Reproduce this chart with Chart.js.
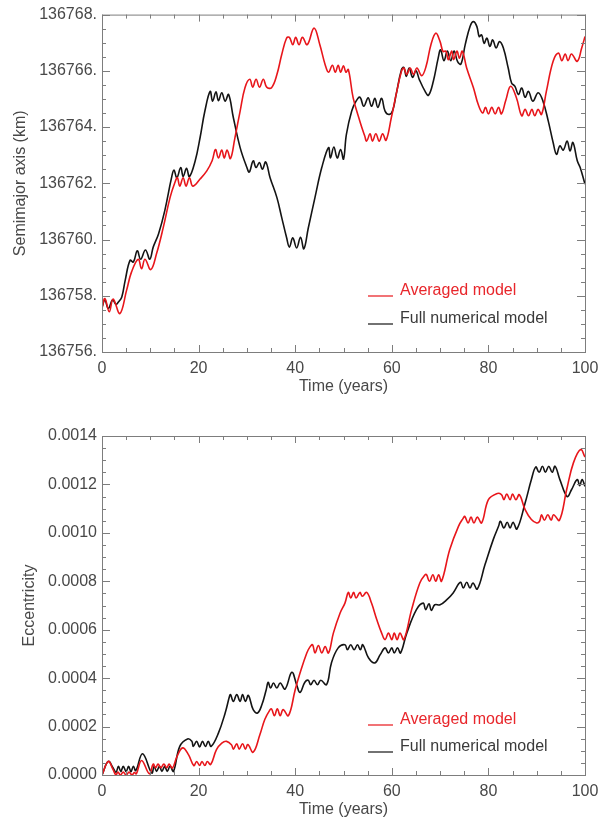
<!DOCTYPE html>
<html>
<head>
<meta charset="utf-8">
<title>Semimajor axis / Eccentricity</title>
<script src="https://cdn.jsdelivr.net/npm/chart.js@4.4.0/dist/chart.umd.min.js"></script>
<style>
html, body { margin:0; padding:0; background:#fff; overflow:hidden; }
.panel { position:absolute; left:0; width:609px; }
</style>
</head>
<body>

<div class="panel" style="top:0px;height:400px;"><canvas id="semiChart"></canvas></div>
<div class="panel" style="top:411px;height:407px;"><canvas id="eccChart"></canvas></div>

<script>
// ---- data ----
var xTicks = [0, 20, 40, 60, 80, 100];
var semiTicks = [136756, 136758, 136760, 136762, 136764, 136766, 136768];
var eccTicks = [0, 0.0002, 0.0004, 0.0006, 0.0008, 0.0010, 0.0012, 0.0014];

// semimajor axis (km), averaged model
var semiAvgYears = [0,0.6,1.5,2.3,3.7,5.1,6.1,7.5,8.2,8.9,10.1,11.3,12.7,14.1,15.1,15.6,16.1,16.8,17.4,18.1,18.8,20.3,21.7,22.8,23.5,24.1,24.8,25.3,25.9,26.6,27.5,28.6,29.6,30.6,31.2,31.9,32.6,33.4,34.1,35.1,36.2,37.2,38.2,38.8,39.5,40.1,40.8,41.5,42.5,43.9,45.1,46.2,46.9,47.7,48.3,48.9,49.4,50.0,50.5,51.0,52.0,53.4,54.4,54.8,55.5,56.0,56.7,57.4,58.1,58.8,59.9,60.9,62.0,62.5,63.1,63.8,64.5,65.2,66.2,67.1,68.1,69.1,70.0,70.6,71.2,71.7,72.4,72.8,73.5,74.0,74.6,75.5,76.9,77.9,78.8,79.4,80.0,80.7,81.4,82.1,82.7,83.6,84.6,85.8,86.9,87.6,88.3,89.0,89.6,90.3,91.0,92.0,93.4,94.5,95.2,95.9,96.5,97.2,98.4,99.3,100];
var semiAvgKm = [136757.55,136757.9,136757.43,136757.88,136757.37,136758.2,136758.84,136759.3,136758.96,136759.3,136758.93,136759.5,136760.44,136761.5,136762.03,136762.2,136761.9,136762.2,136761.9,136762.2,136761.9,136762.15,136762.44,136762.8,136763.2,136762.9,136763.18,136762.9,136763.18,136762.88,136763.6,136764.57,136765.4,136765.7,136765.42,136765.7,136765.42,136765.7,136765.42,136765.4,136765.86,136766.57,136767.16,136767.19,136766.93,136767.19,136766.93,136767.19,136766.93,136767.52,136766.93,136766.22,136765.95,136766.2,136765.95,136766.2,136765.95,136766.18,136765.95,136766.05,136765.04,136764.2,136763.68,136763.5,136763.76,136763.5,136763.76,136763.5,136763.76,136763.53,136764.33,136765.16,136765.98,136766.1,136765.87,136766.1,136765.87,136766.1,136765.83,136766.16,136766.93,136767.34,136767.04,136766.69,136766.7,136766.4,136766.7,136766.4,136766.7,136766.45,136766.7,136766.1,136765.4,136764.8,136764.5,136764.7,136764.47,136764.7,136764.47,136764.7,136764.47,136764.95,136765.45,136765.04,136764.4,136764.63,136764.4,136764.63,136764.4,136764.63,136764.45,136765.27,136766.34,136766.63,136766.36,136766.6,136766.36,136766.6,136766.34,136766.8,136767.22];

// semimajor axis (km), full numerical model
var semiFullYears = [0,0.6,1.3,2.2,2.9,3.4,4.1,4.8,5.8,6.5,7.3,8.0,9.0,9.9,10.6,11.7,13.0,14.4,14.9,15.5,16.3,16.8,17.5,18.1,19.3,20.3,21.3,22.4,22.9,23.6,24.1,24.8,25.5,26.2,27.2,28.6,30.0,30.5,31.3,31.9,32.6,33.2,33.9,34.8,36.2,37.2,38.2,38.8,39.5,40.3,41.1,41.8,42.7,44.1,45.5,46.9,47.3,48.0,48.7,49.4,50.0,50.6,51.7,52.6,53.4,54.2,55.1,55.8,56.5,57.1,57.9,58.6,59.5,60.2,60.9,62.0,62.5,63.0,63.6,64.3,65.0,65.7,66.9,67.6,68.6,69.6,70.1,70.8,71.5,72.2,72.9,73.6,74.3,75.2,76.2,76.9,77.6,78.1,78.6,79.1,79.7,80.3,80.9,81.6,82.3,83.1,84.1,84.8,85.5,86.2,86.9,87.6,88.3,89.2,90.3,91.3,92.4,93.4,94.1,94.8,95.5,96.3,96.9,97.5,98.4,99.0,100];
var semiFullKm = [136757.6,136757.85,136757.55,136757.85,136757.7,136757.78,136757.96,136758.55,136759.26,136759.2,136759.6,136759.3,136759.63,136759.3,136759.73,136760.2,136761.03,136762.2,136762.47,136762.2,136762.56,136762.24,136762.53,136762.24,136762.8,136763.62,136764.57,136765.27,136764.92,136765.25,136764.94,136765.22,136764.92,136765.16,136764.33,136763.27,136762.56,136762.4,136762.8,136762.56,136762.74,136762.5,136762.76,136762.2,136761.5,136760.79,136760.08,136759.73,136760.06,136759.7,136760.08,136759.67,136760.4,136761.5,136762.56,136763.27,136762.9,136763.29,136762.9,136763.2,136762.86,136763.74,136764.57,136764.92,136765.06,136764.74,136765.04,136764.74,136765.02,136764.7,136765.02,136764.57,136764.45,136764.6,136765.16,136766.04,136766.12,136765.8,136766.1,136765.77,136766.0,136765.69,136765.27,136765.13,136765.63,136766.45,136766.75,136766.36,136766.7,136766.36,136766.7,136766.34,136766.24,136766.93,136767.58,136767.75,136767.58,136767.22,136767.28,136766.98,136767.16,136766.87,136767.1,136766.81,136767.04,136766.81,136766.1,136765.57,136765.45,136765.16,136765.39,136765.06,136765.27,136764.92,136765.22,136764.92,136764.21,136763.45,136763.03,136763.33,136763.18,136763.5,136763.15,136763.45,136762.8,136762.56,136761.97];

// eccentricity in units of 1e-4, averaged model
var eccAvgYears = [0,1.3,2.3,2.9,3.3,3.8,4.4,5.0,5.6,6.2,6.7,7.1,8.2,9.8,10.6,11.1,11.6,12.2,12.8,13.4,13.9,14.6,15.5,16.7,17.9,19.0,19.6,20.2,20.7,21.3,21.8,22.5,23.7,24.8,25.8,26.8,27.2,27.9,28.4,29.1,29.7,30.2,31.3,32.7,33.7,34.8,35.1,35.7,36.3,36.9,37.5,38.6,40.0,41.0,42.4,43.1,43.6,44.1,44.8,45.5,46.2,46.9,47.9,49.3,50.3,51.0,51.5,52.1,52.6,53.4,53.9,54.8,55.8,56.9,57.9,58.6,59.3,60.0,60.5,61.1,61.7,62.5,64.1,65.8,66.9,67.2,67.8,68.5,69.1,69.7,70.3,72.0,73.8,74.8,75.1,75.8,76.4,77.0,77.7,78.6,80.0,81.7,82.7,83.2,83.8,84.5,85.0,85.7,86.4,87.6,88.9,90.0,90.6,91.0,91.6,92.3,93.0,93.5,94.7,96.2,97.6,99.1,100];
var eccAvgE4 = [0,0.56,0.22,0,0.12,0,0.12,0,0.12,0,0.1,0.05,0.6,0.05,0.45,0.3,0.45,0.3,0.45,0.3,0.45,0.29,0.75,1.12,0.84,0.39,0.56,0.39,0.56,0.39,0.56,0.43,1.05,1.32,1.39,1.25,1.07,1.29,1.07,1.29,1.07,1.26,0.94,1.67,2.29,2.70,2.73,2.45,2.73,2.45,2.70,2.45,3.52,4.21,5.04,5.3,5.38,5.04,5.35,5.04,5.30,5.04,5.86,6.69,7.1,7.54,7.31,7.54,7.31,7.54,7.38,7.54,7.1,6.41,5.86,5.59,5.86,5.59,5.86,5.59,5.86,5.59,6.83,7.93,8.27,8.27,8.0,8.27,8.0,8.27,8.0,9.31,10.27,10.61,10.68,10.41,10.65,10.41,10.65,10.41,11.37,11.62,11.58,11.37,11.6,11.37,11.6,11.37,11.58,10.96,10.55,10.41,10.48,10.75,10.52,10.75,10.52,10.75,10.52,11.78,12.89,13.44,13.13];

// eccentricity in units of 1e-4, full numerical model
var eccFullYears = [0,1.3,2.3,2.9,3.4,3.9,4.4,5.0,5.5,6.0,6.5,7.0,8.4,10.3,10.8,11.3,11.9,12.4,13.0,13.5,14.1,14.8,16.1,17.7,18.6,18.9,19.6,20.2,20.8,21.4,22.0,22.6,24.1,25.5,26.4,26.6,27.2,27.9,28.6,29.1,29.7,30.3,31.3,32.2,33.1,34.0,34.4,34.9,35.5,36.2,36.9,37.9,39.3,40.3,41.0,42.0,42.7,43.2,43.9,44.6,45.3,46.5,47.5,48.9,50.3,50.8,51.5,52.2,52.9,53.5,54.0,55.2,56.5,57.6,58.6,59.3,60.0,60.5,61.2,61.8,63.1,65.1,66.5,67.0,67.7,68.2,68.9,70.0,71.4,72.7,74.2,74.8,75.5,76.2,76.8,77.7,79.3,81.0,82.1,82.5,83.2,83.9,84.5,85.1,85.9,87.6,88.9,89.8,90.5,91.2,91.8,92.5,93.2,93.8,94.8,96.3,97.2,98.4,98.9,99.4,100];
var eccFullE4 = [0,0.56,0.29,0.11,0.36,0.14,0.36,0.14,0.36,0.14,0.36,0.18,0.88,0.08,0.36,0.15,0.36,0.15,0.36,0.15,0.36,0.15,1.18,1.49,1.39,1.18,1.39,1.16,1.39,1.18,1.39,1.18,1.73,2.56,3.25,3.32,3.04,3.32,3.04,3.32,3.04,3.29,2.70,2.56,2.9,3.52,3.83,3.59,3.8,3.59,3.8,3.55,4.24,3.73,3.41,3.83,3.91,3.73,3.91,3.73,3.91,3.73,4.63,5.25,5.38,5.17,5.38,5.17,5.38,5.17,5.38,4.83,4.63,4.97,5.25,5.04,5.25,5.04,5.25,5.04,5.86,6.83,7.1,6.83,7.07,6.8,7.03,7.03,7.24,7.52,7.96,7.72,7.96,7.72,7.93,7.68,8.69,9.72,10.27,10.48,10.2,10.44,10.2,10.44,10.16,11.23,12.2,12.72,12.5,12.75,12.5,12.75,12.5,12.75,12.2,11.5,11.78,12.2,11.95,12.2,11.92];

// ---- styling ----
var FAMILY = '"Liberation Sans", Arial, sans-serif';
var TXT = '#484848';
var RED = '#e8161b';
var BLACK = '#141414';

function pts(xs, ys, k) {
  return xs.map(function (x, i) { return { x: x, y: ys[i] * k }; });
}

// IDL-like frame: box round the plot with inward major and minor ticks on all sides,
// plus a small legend drawn inside the plot
var idlFrame = {
  id: 'idlFrame',
  afterDatasetsDraw: function (chart, args, o) {
    var ctx = chart.ctx, a = chart.chartArea;
    var xs = chart.scales.x, ys = chart.scales.y;
    ctx.save();
    ctx.strokeStyle = '#7d7d7d';
    ctx.lineWidth = 1;
    ctx.strokeRect(a.left + 0.5, a.top + 0.5, a.right - a.left, a.bottom - a.top);

    ctx.beginPath();
    var n = Math.round((xs.max - xs.min) / o.xMinor);
    for (var i = 0; i <= n; i++) {
      var px = Math.round(xs.getPixelForValue(xs.min + i * o.xMinor)) + 0.5;
      var len = (i % o.xPer === 0) ? 7 : 4;
      ctx.moveTo(px, a.bottom); ctx.lineTo(px, a.bottom - len);
      ctx.moveTo(px, a.top); ctx.lineTo(px, a.top + len);
    }
    n = Math.round((ys.max - ys.min) / o.yMinor);
    for (var j = 0; j <= n; j++) {
      var py = Math.round(ys.getPixelForValue(ys.min + j * o.yMinor)) + 0.5;
      var l2 = (j % o.yPer === 0) ? 8 : 4;
      ctx.moveTo(a.left, py); ctx.lineTo(a.left + l2, py);
      ctx.moveTo(a.right, py); ctx.lineTo(a.right - l2, py);
    }
    ctx.stroke();

    // legend
    ctx.font = '16px ' + FAMILY;
    ctx.textBaseline = 'middle';
    ctx.textAlign = 'left';
    chart.data.datasets.forEach(function (ds, k) {
      var y = o.legendY[k];
      ctx.strokeStyle = ds.borderColor;
      ctx.lineWidth = 1.2;
      ctx.beginPath();
      ctx.moveTo(o.legendX, y + 5); ctx.lineTo(o.legendX + 25, y + 5);
      ctx.stroke();
      ctx.fillStyle = o.legendColors[k];
      ctx.fillText(ds.label, o.legendX + 32, y);
    });
    ctx.restore();
  }
};

function makePanel(id, p) {
  return new Chart(document.getElementById(id), {
    type: 'line',
    data: {
      datasets: [
        { label: 'Averaged model', data: p.avg, borderColor: RED, borderWidth: 1.6 },
        { label: 'Full numerical model', data: p.full, borderColor: BLACK, borderWidth: 1.6 }
      ]
    },
    options: {
      responsive: true,
      maintainAspectRatio: false,
      animation: false,
      layout: { padding: { left: 0, right: 24, top: p.padTop, bottom: p.padBottom } },
      elements: {
        point: { radius: 0 },
        line: { tension: 0.4 }
      },
      plugins: {
        legend: { display: false },
        tooltip: { enabled: false },
        idlFrame: {
          xMinor: 5, xPer: 4, yMinor: p.yMinor, yPer: 4,
          legendX: 368, legendY: p.legendY, legendColors: ['#e8262b', '#3a3a3a']
        }
      },
      scales: {
        x: {
          type: 'linear', min: 0, max: 100,
          grid: { display: false, drawTicks: false },
          border: { display: false },
          afterBuildTicks: function (s) { s.ticks = xTicks.map(function (v) { return { value: v }; }); },
          afterFit: function (s) { s.height = 43; },
          ticks: { padding: 7, color: TXT, autoSkip: false, maxRotation: 0,
                   font: { family: FAMILY, size: 16 } },
          title: { display: true, text: 'Time (years)', color: TXT, padding: 0,
                   font: { family: FAMILY, size: 16, lineHeight: 1 } }
        },
        y: {
          type: 'linear', min: p.yMin, max: p.yMax,
          grid: { display: false, drawTicks: false },
          border: { display: false },
          afterBuildTicks: function (s) { s.ticks = p.yTicks.map(function (v) { return { value: v }; }); },
          afterFit: function (s) { s.width = 102; },
          ticks: { padding: 5, color: TXT, autoSkip: false, callback: p.fmt,
                   font: { family: FAMILY, size: 16 } },
          title: { display: true, text: p.yTitle, color: TXT, padding: { top: p.titlePad, bottom: 0 },
                   font: { family: FAMILY, size: 16, lineHeight: 1 } }
        }
      }
    },
    plugins: [idlFrame]
  });
}

makePanel('semiChart', {
  avg: pts(semiAvgYears, semiAvgKm, 1),
  full: pts(semiFullYears, semiFullKm, 1),
  yMin: 136756, yMax: 136768, yTicks: semiTicks, yMinor: 0.5,
  fmt: function (v) { return v.toFixed(0) + '.'; },
  yTitle: 'Semimajor axis (km)', titlePad: 13,
  padTop: 13, padBottom: 5,
  legendY: [291, 319]
});

makePanel('eccChart', {
  avg: pts(eccAvgYears, eccAvgE4, 1e-4),
  full: pts(eccFullYears, eccFullE4, 1e-4),
  yMin: 0, yMax: 0.0014, yTicks: eccTicks, yMinor: 0.00005,
  fmt: function (v) { return v.toFixed(4); },
  yTitle: 'Eccentricity', titlePad: 22,
  padTop: 25, padBottom: 0,
  legendY: [309, 336]
});
</script>
</body>
</html>
